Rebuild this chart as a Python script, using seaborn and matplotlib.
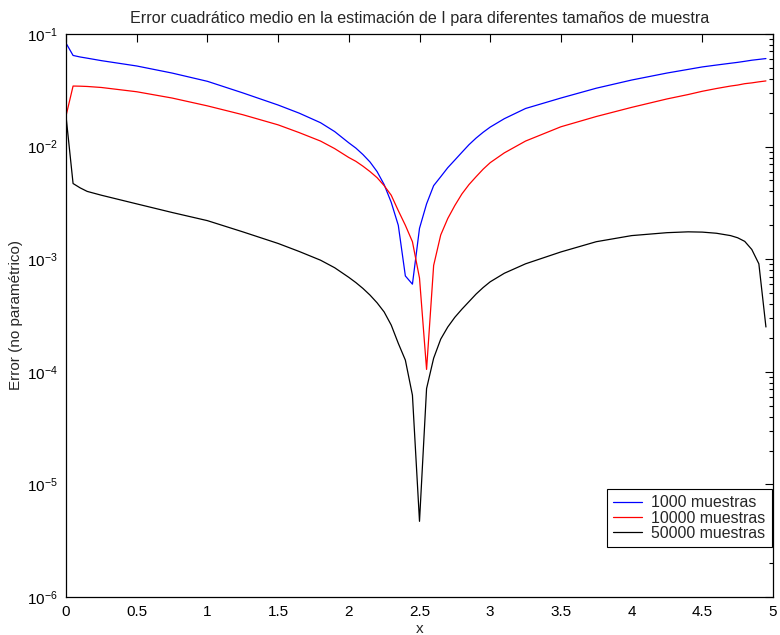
import matplotlib
matplotlib.use("Agg")
import matplotlib.pyplot as plt
import seaborn as sns
import pandas as pd
from matplotlib.ticker import FixedLocator, FuncFormatter, LogLocator, LogFormatterSciNotation

x = [0, 0.05, 0.1, 0.15, 0.25, 0.5, 0.75, 1.0, 1.25, 1.5, 1.65, 1.8, 1.9, 2.0,
     2.05, 2.1, 2.15, 2.2, 2.25, 2.3, 2.35, 2.4, 2.45, 2.5, 2.55, 2.6, 2.65,
     2.7, 2.75, 2.8, 2.85, 2.9, 2.95, 3.0, 3.1, 3.25, 3.5, 3.75, 4.0, 4.25,
     4.4, 4.5, 4.6, 4.7, 4.75, 4.8, 4.85, 4.9, 4.95]

err_1000 = [0.083, 0.0645, 0.0625, 0.061, 0.058, 0.052, 0.045, 0.038, 0.030,
            0.0234, 0.0198, 0.0163, 0.0136, 0.0108, 0.0097, 0.0085, 0.0073,
            0.0060, 0.0046, 0.0032, 0.0020, 0.00071, 0.00060, 0.00188, 0.0031,
            0.0045, 0.0054, 0.0065, 0.0076, 0.0089, 0.0104, 0.0119, 0.0134,
            0.0149, 0.0177, 0.0218, 0.0270, 0.0330, 0.0390, 0.0450, 0.0485,
            0.0510, 0.0530, 0.0550, 0.0560, 0.0572, 0.0585, 0.0595, 0.0605]

err_10000 = [0.0187, 0.0345, 0.0344, 0.0342, 0.0335, 0.0307, 0.027, 0.023,
             0.0192, 0.0156, 0.0133, 0.0112, 0.0096, 0.0080, 0.0074, 0.0067,
             0.0060, 0.0053, 0.0045, 0.0037, 0.0027, 0.0020, 0.00143, 0.00068,
             0.000105, 0.00088, 0.00164, 0.0023, 0.0030, 0.0038, 0.0046,
             0.0054, 0.0063, 0.0072, 0.0088, 0.0112, 0.0150, 0.0185, 0.0223,
             0.0265, 0.0290, 0.0310, 0.0328, 0.0345, 0.0352, 0.0362, 0.0368,
             0.0376, 0.0383]

err_50000 = [0.0187, 0.0047, 0.0043, 0.0040, 0.0037, 0.0031, 0.0026, 0.0022,
             0.00175, 0.00138, 0.00117, 0.00098, 0.00084, 0.00069, 0.00062,
             0.00055, 0.00048, 0.00041, 0.00034, 0.00026, 0.000179, 0.000127,
             0.000062, 0.0000047, 0.000071, 0.000132, 0.000195, 0.00025,
             0.000305, 0.00036, 0.00042, 0.00049, 0.00056, 0.00063, 0.00075,
             0.00091, 0.00116, 0.00143, 0.00162, 0.00172, 0.00175, 0.00174,
             0.00170, 0.00162, 0.00155, 0.00144, 0.00122, 0.00091, 0.00025]

labels = ["1000 muestras", "10000 muestras", "50000 muestras"]
colors = ["#0000ff", "#ff0000", "#000000"]

x_ticks = [0, 0.5, 1, 1.5, 2, 2.5, 3, 3.5, 4, 4.5, 5]

df = pd.concat([
    pd.DataFrame({"x": x, "err": err_1000, "serie": labels[0]}),
    pd.DataFrame({"x": x, "err": err_10000, "serie": labels[1]}),
    pd.DataFrame({"x": x, "err": err_50000, "serie": labels[2]}),
], ignore_index=True)

sns.set_style("white")
plt.rcParams["font.family"] = ["Liberation Sans", "DejaVu Sans"]
plt.rcParams["mathtext.default"] = "regular"
plt.rcParams["axes.linewidth"] = 0.9

fig = plt.figure(figsize=(7.8, 6.35), dpi=100)
ax = fig.add_axes([66 / 780, 38 / 635, 707 / 780, 563 / 635])

sns.lineplot(data=df, x="x", y="err", hue="serie", hue_order=labels,
             palette=colors, sort=False, linewidth=0.9, ax=ax, legend=True)

ax.set_yscale("log")
ax.set_xlim(0, 5)
ax.set_ylim(1e-6, 1e-1)
ax.xaxis.set_major_locator(FixedLocator(x_ticks))
ax.xaxis.set_major_formatter(FuncFormatter(lambda v, p: "%g" % v))
ax.yaxis.set_major_locator(LogLocator(base=10, numticks=10))
ax.yaxis.set_minor_locator(LogLocator(base=10, subs=range(2, 10), numticks=20))
ax.yaxis.set_major_formatter(LogFormatterSciNotation())

for s in ax.spines.values():
    s.set_visible(True)
    s.set_color("black")
    s.set_linewidth(0.9)

ax.tick_params(axis="both", which="both", direction="in", top=True, right=True,
               colors="black", labelsize=11, width=0.8)
ax.tick_params(axis="both", which="major", length=6, pad=6)
ax.tick_params(axis="y", which="minor", length=3)

ax.set_xlabel("x", fontsize=11, labelpad=2)
ax.set_ylabel("Error (no paramétrico)", fontsize=11, labelpad=3)
ax.set_title("Error cuadrático medio en la estimación de I para diferentes tamaños de muestra",
             fontsize=11.6, pad=8)

handles, lbls = ax.get_legend_handles_labels()
leg = ax.legend(handles, lbls, loc="upper right", bbox_to_anchor=(0.9986, 0.192),
                borderaxespad=0, frameon=True, fancybox=False, framealpha=1,
                edgecolor="black", fontsize=11.4, handlelength=1.8,
                handletextpad=0.6, borderpad=0.4, labelspacing=0.02)
leg.get_frame().set_linewidth(0.8)

ax.grid(False)
fig.savefig("out.png", dpi=100)
